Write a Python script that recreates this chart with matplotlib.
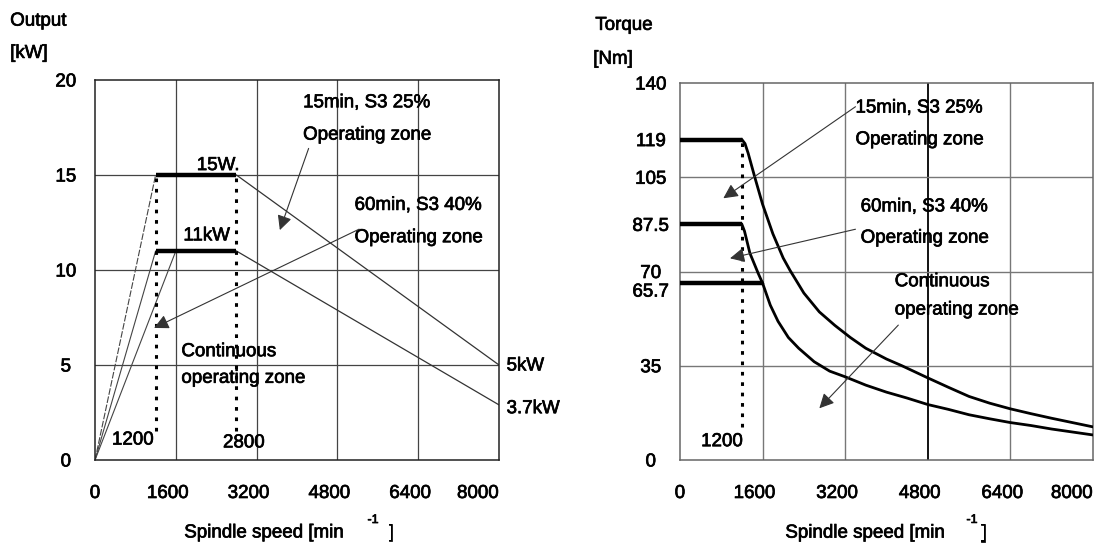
import matplotlib
matplotlib.use("Agg")
import matplotlib.pyplot as plt
import matplotlib.transforms as mtransforms
import matplotlib.patheffects as pe

plt.rcParams['font.family'] = ['Liberation Sans', 'DejaVu Sans']

# ---- output chart data (speed in min^-1, power in kW)
speed_ticks = [0, 1600, 3200, 4800, 6400, 8000]
power_ticks = [0, 5, 10, 15, 20]
s3_25_speed = [1200, 2800, 8000]
s3_25_power = [15, 15, 5]
s3_40_speed = [1200, 2800, 8000]
s3_40_power = [11, 11, 2.9]
ramp_speed = [1200, 1200, 1600]
ramp_power = [15, 11, 11]
base_speeds = [1200, 2800]

# ---- torque chart data (Nm)
torque_ticks = [0, 35, 65.7, 70, 87.5, 105, 119, 140]
torque_labels = ["0", "35", "65.7", "70", "87.5", "105", "119", "140"]
t25_speed = [0, 1200, 1260, 1320, 1450, 1600, 1800, 2000, 2130, 2400, 2700, 3000, 3300, 3600,
             4000, 4300, 4800, 5200, 5600, 6000, 6400, 6800, 7200, 7600, 8000]
t25_torque = [119, 119, 117.5, 114, 105, 95, 84, 75, 70.5, 62, 55, 50, 45.5, 41.5,
              37.5, 35, 30.5, 27, 23.6, 21.1, 19, 17.2, 15.5, 13.9, 12.3]
t40_speed = [0, 1200, 1250, 1355, 1516, 1600]
t40_torque = [87.5, 87.5, 85, 76.8, 69.3, 65.7]
tcont_speed = [0, 1600, 1750, 1900, 2100, 2300, 2600, 2900, 3200, 3600, 4000, 4400, 4800,
               5200, 5600, 6000, 6400, 6800, 7200, 7600, 8000]
tcont_torque = [65.7, 65.7, 57.5, 51.5, 45.5, 41.5, 36.5, 33, 30.9, 27.8, 25.2, 23, 20.6,
                18.8, 16.8, 15.3, 13.9, 12.8, 11.5, 10.4, 9.3]

FS = 13.5
TFS = 13.5
bolder = [pe.withStroke(linewidth=0.5, foreground='black')]

fig = plt.figure(figsize=(10.96, 5.48), dpi=100)
ax1 = fig.add_axes([0.0867, 0.1606, 0.3686, 0.6934])
ax2 = fig.add_axes([0.6204, 0.1606, 0.3768, 0.6879])


def label(ax, x, y, s, size=FS, **kw):
    kw.setdefault('ha', 'left')
    kw.setdefault('va', 'center')
    return ax.text(x, y, s, fontsize=size, path_effects=bolder, **kw)


# ================= left: output =================
ax1.set_xlim(0, 8000)
ax1.set_ylim(0, 20)
for x in speed_ticks[1:-1]:
    ax1.axvline(x, color='#444444', lw=0.9, zorder=1)
for y in power_ticks[1:-1]:
    ax1.axhline(y, color='#444444', lw=0.9, zorder=1)

for sx, py in zip(ramp_speed, ramp_power):
    ax1.plot([0, sx], [0, py], color='#444444', lw=0.8,
             dashes=(6, 1.5) if sx == 1200 and py == 15 else (None, None), zorder=2)
ax1.plot(s3_25_speed[:2], s3_25_power[:2], color='black', lw=3.2, solid_capstyle='butt', zorder=3)
ax1.plot(s3_25_speed[1:], s3_25_power[1:], color='#333333', lw=0.9, zorder=2)
ax1.plot(s3_40_speed[:2], s3_40_power[:2], color='black', lw=3.2, solid_capstyle='butt', zorder=3)
ax1.plot(s3_40_speed[1:], s3_40_power[1:], color='#333333', lw=0.9, zorder=2)
for bs in base_speeds:
    ax1.plot([bs, bs], [1.5, 15], color='black', lw=2.2, dashes=(1.2, 2.2), zorder=3)

label(ax1, 2440, 15.05, "15W.", ha='center', va='bottom')
label(ax1, 2210, 11.35, "11kW", ha='center', va='bottom')
label(ax1, 4120, 18.8, "15min, S3 25%")
label(ax1, 4120, 17.1, "Operating zone")
label(ax1, 5140, 13.4, "60min, S3 40%")
label(ax1, 5140, 11.7, "Operating zone")
label(ax1, 1710, 5.7, "Continuous")
label(ax1, 1710, 4.3, "operating zone")
label(ax1, 8150, 4.95, "5kW", clip_on=False)
label(ax1, 8150, 2.7, "3.7kW", clip_on=False)
label(ax1, 750, 1.05, "1200", size=TFS, ha='center')
label(ax1, 2950, 0.9, "2800", size=TFS, ha='center')

arrow = dict(arrowstyle='-|>', color='#333333', lw=0.8, mutation_scale=22, shrinkA=0, shrinkB=0)
ax1.annotate("", xy=(3660, 12.1), xytext=(4230, 16.4), arrowprops=arrow)
ax1.annotate("", xy=(1170, 6.95), xytext=(5230, 12.15), arrowprops=arrow)

ax1.set_xticks(speed_ticks)
ax1.set_yticks(power_ticks)
label(ax1, -0.21, 1.155, "Output", transform=ax1.transAxes)
label(ax1, -0.21, 1.07, "[kW]", transform=ax1.transAxes)
label(ax1, 0.418, -0.192, "Spindle speed [min", transform=ax1.transAxes, ha='center')
label(ax1, 0.688, -0.158, "-1", size=9, transform=ax1.transAxes, ha='center')
label(ax1, 0.733, -0.192, "]", transform=ax1.transAxes, ha='center')

# ================= right: torque =================
ax2.set_xlim(0, 8000)
ax2.set_ylim(0, 140)
for x in speed_ticks[1:-1]:
    if x == 4800:
        ax2.axvline(x, color='black', lw=1.3, zorder=1)
    else:
        ax2.axvline(x, color='#777777', lw=1.0, zorder=1)
for y in [35, 70, 105]:
    ax2.axhline(y, color='#777777', lw=1.0, zorder=1)

ax2.plot(t25_speed[:2], t25_torque[:2], color='black', lw=3.2, solid_capstyle='butt', zorder=3)
ax2.plot(t25_speed[1:], t25_torque[1:], color='black', lw=2.0, zorder=3)
ax2.plot(t40_speed[:2], t40_torque[:2], color='black', lw=3.2, solid_capstyle='butt', zorder=3)
ax2.plot(t40_speed[1:], t40_torque[1:], color='black', lw=2.0, zorder=3)
ax2.plot(tcont_speed[:2], tcont_torque[:2], color='black', lw=3.2, solid_capstyle='butt', zorder=3)
ax2.plot(tcont_speed[1:], tcont_torque[1:], color='black', lw=2.0, zorder=3)
ax2.plot([1200, 1200], [12.4, 119], color='black', lw=2.2, dashes=(1.2, 2.2), zorder=3)

label(ax2, 3400, 130.7, "15min, S3 25%")
label(ax2, 3400, 118.9, "Operating zone")
label(ax2, 3500, 94, "60min, S3 40%")
label(ax2, 3500, 82.4, "Operating zone")
label(ax2, 4160, 66.2, "Continuous")
label(ax2, 4160, 55.7, "operating zone")
label(ax2, 815, 6.8, "1200", size=TFS, ha='center')

ax2.annotate("", xy=(840, 97.2), xytext=(3400, 131.2), arrowprops=arrow)
ax2.annotate("", xy=(970, 74.9), xytext=(3400, 85.7), arrowprops=arrow)
ax2.annotate("", xy=(2700, 19.2), xytext=(4230, 50.1), arrowprops=arrow)

ax2.set_xticks(speed_ticks)
ax2.set_yticks(torque_ticks, torque_labels)
label(ax2, -0.205, 1.153, "Torque", transform=ax2.transAxes)
label(ax2, -0.21, 1.063, "[Nm]", transform=ax2.transAxes)
label(ax2, 0.448, -0.194, "Spindle speed [min", transform=ax2.transAxes, ha='center')
label(ax2, 0.707, -0.159, "-1", size=9, transform=ax2.transAxes, ha='center')
label(ax2, 0.736, -0.194, "]", transform=ax2.transAxes, ha='center')

for ax, frame_col in ((ax1, '#222222'), (ax2, '#666666')):
    ax.tick_params(axis='x', length=0, pad=18, labelsize=TFS)
    ax.tick_params(axis='y', length=0, pad=21, labelsize=TFS)
    for lbl in ax.get_yticklabels() + ax.get_xticklabels():
        lbl.set_path_effects(bolder)
    for lbl in ax.get_yticklabels():
        lbl.set_horizontalalignment('center')
    for sp in ax.spines.values():
        sp.set_color(frame_col)
        sp.set_linewidth(1.1)

# nudge labels the way the scan has them
for ax in (ax1, ax2):
    xl = ax.get_xticklabels()
    for lbl in xl[1:-1]:
        lbl.set_transform(lbl.get_transform() + mtransforms.ScaledTranslation(-8 / 100, 0, fig.dpi_scale_trans))
    xl[-1].set_horizontalalignment('right')
for lbl in ax2.get_yticklabels():
    if lbl.get_text() == "65.7":
        lbl.set_transform(lbl.get_transform() + mtransforms.ScaledTranslation(0, -7 / 100, fig.dpi_scale_trans))

fig.savefig("out.png", dpi=100, facecolor='white')
